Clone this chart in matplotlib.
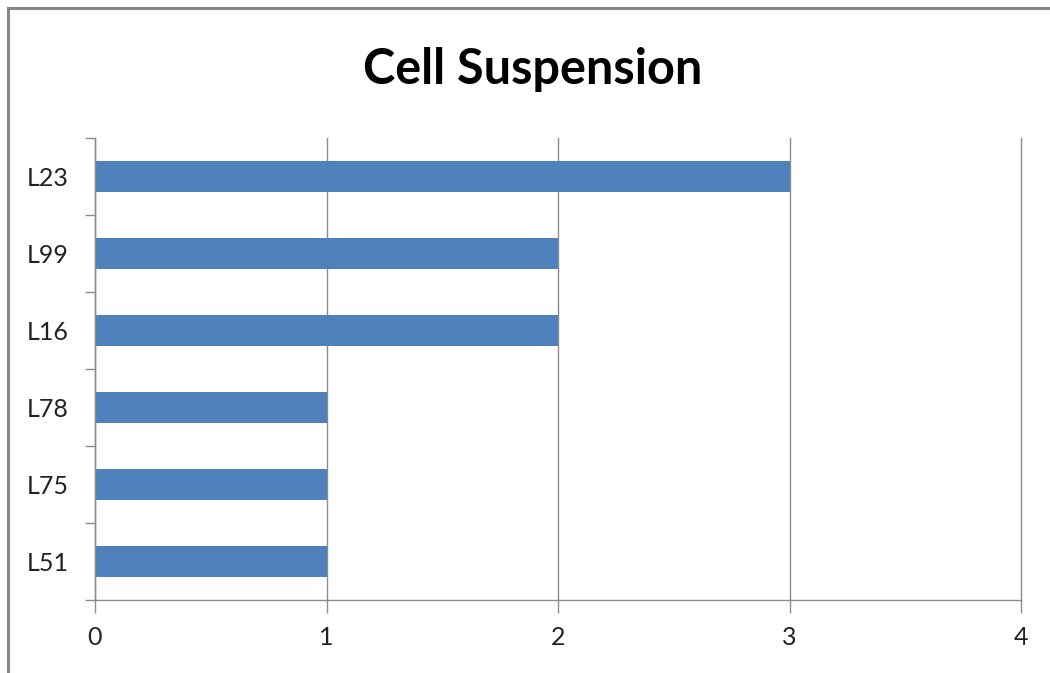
import matplotlib
matplotlib.use("Agg")
import matplotlib.pyplot as plt
from matplotlib.patches import Rectangle
import numpy as np

categories = ["L51", "L75", "L78", "L16", "L99", "L23"]
values = [1, 1, 1, 2, 2, 3]
x_ticks = [0, 1, 2, 3, 4]
title = "Cell Suspension"

plt.rcParams["font.family"] = ["Lato", "DejaVu Sans"]

fig = plt.figure(figsize=(10.5, 6.73), dpi=100)
fig.patch.set_facecolor("white")

# outer chart frame
fig.patches.append(Rectangle((7.5 / 1050, -0.1), 1.2, (673 - 8.5) / 673 + 0.1,
                             transform=fig.transFigure, fill=False,
                             edgecolor="#878787", linewidth=2.2, zorder=0))

ax = fig.add_axes([95 / 1050, 1 - 600 / 673, (1021 - 95) / 1050, (600 - 138) / 673])
grid_c = "#8c8c8c"

y = np.arange(len(categories))
ax.barh(y, values, height=0.4, color="#4F81BD", zorder=3)

ax.set_xlim(0, 4)
ax.set_ylim(-0.5, len(categories) - 0.5)
ax.set_xticks(x_ticks)
ax.set_xticklabels([str(t) for t in x_ticks], fontsize=18, color="#222222")
ax.set_yticks(y)
ax.set_yticklabels(categories, fontsize=18, color="#222222")
ax.set_yticks(np.arange(-0.5, len(categories), 1.0), minor=True)

ax.tick_params(axis="y", which="major", length=0, pad=19)
ax.tick_params(axis="y", which="minor", length=7, width=1, color=grid_c, direction="out")
ax.tick_params(axis="x", which="major", length=9, width=1, color=grid_c, direction="out", pad=10)

ax.grid(axis="x", color=grid_c, linewidth=1, zorder=1)
for gl in ax.get_xgridlines():
    gl.set_clip_on(False)
ax.set_axisbelow(True)
for s in ["top", "right"]:
    ax.spines[s].set_visible(False)
for s in ["left", "bottom"]:
    ax.spines[s].set_color(grid_c)
    ax.spines[s].set_linewidth(1)
    ax.spines[s].set_zorder(4)

fig.text(533 / 1050, 1 - 70 / 673, title, ha="center", va="center",
         fontsize=35, fontweight="bold", color="black")

fig.savefig("out.png", dpi=100)
